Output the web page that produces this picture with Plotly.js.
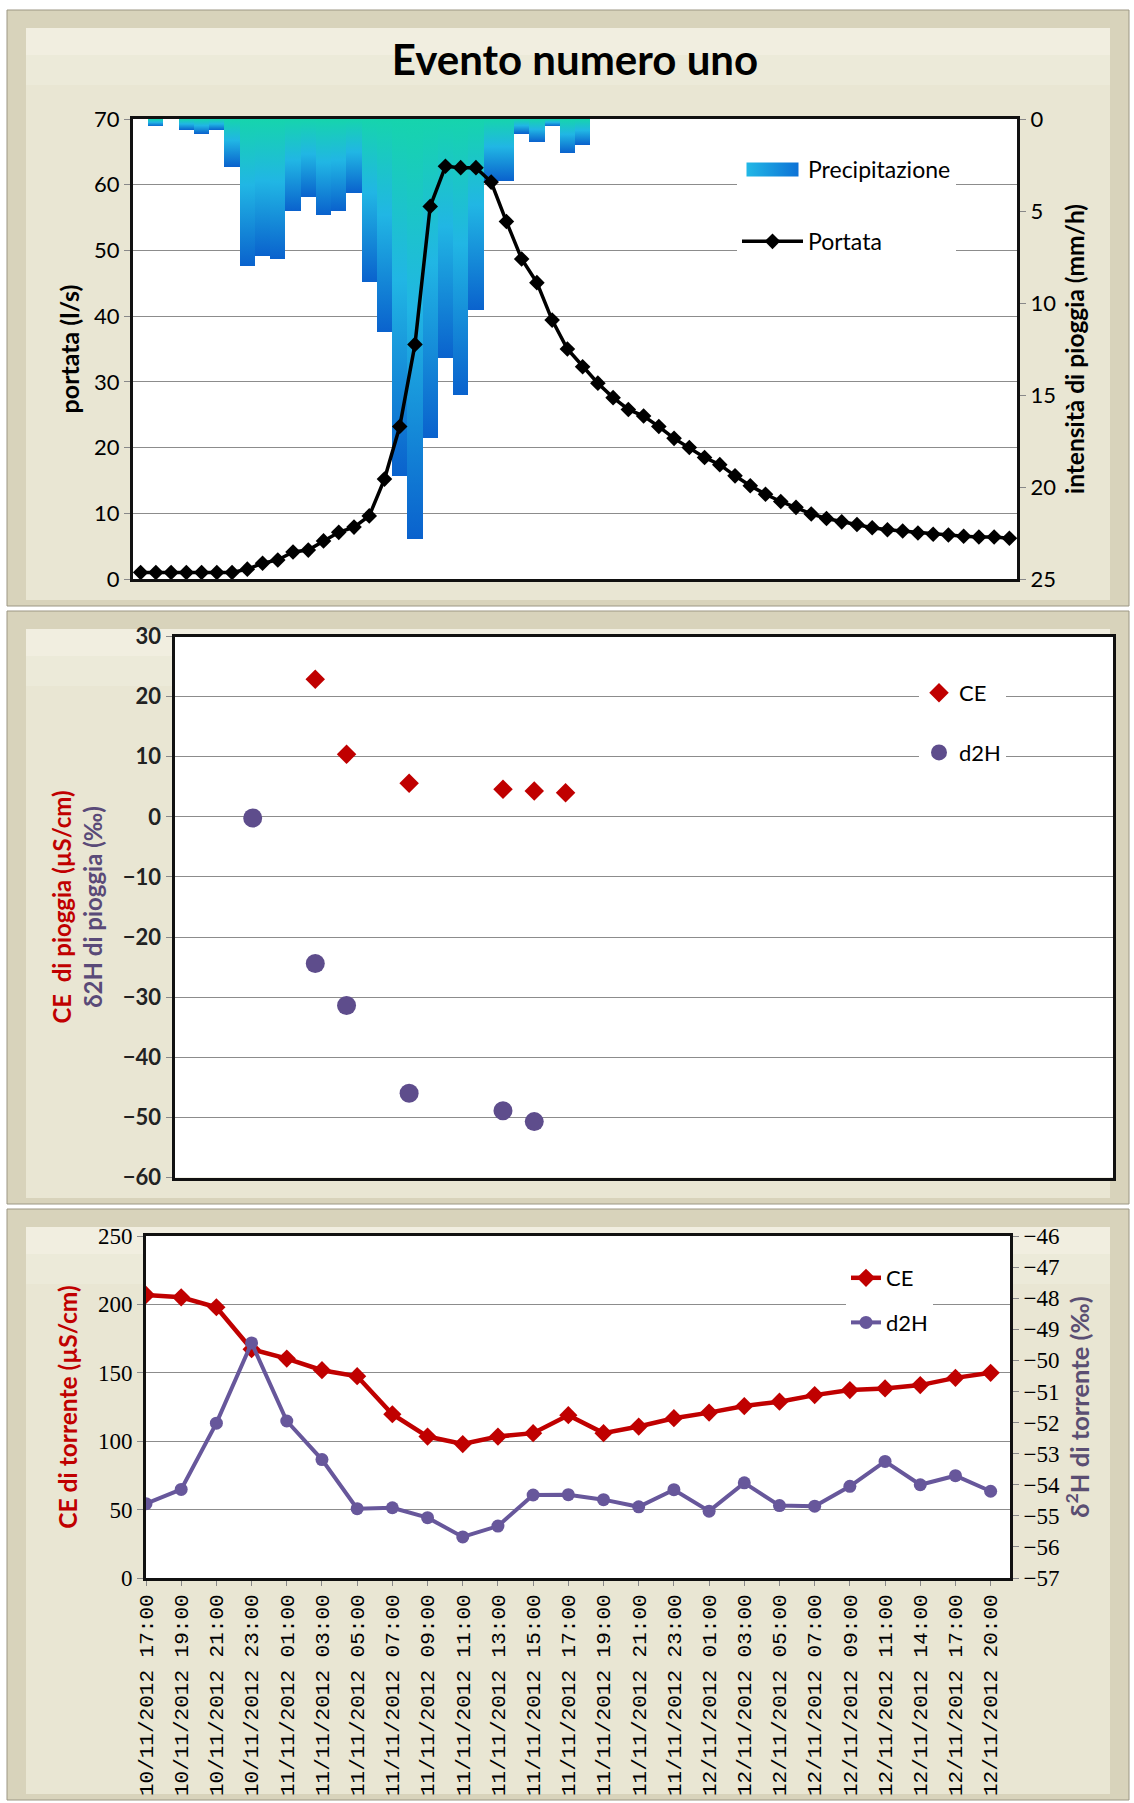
<!DOCTYPE html>
<html>
<head>
<meta charset="utf-8">
<script src="https://cdn.plot.ly/plotly-3.0.1.min.js"></script>
<style>
html,body{margin:0;padding:0;background:#fff;}
#chart{width:1134px;height:1803px;}
</style>
</head>
<body>
<div id="chart"></div>
<script>
// ================= DATA =================
// Top panel: hourly steps of the event (category index, labels hidden in the original)
const flowStep = [0,1,2,3,4,5,6,7,8,9,10,11,12,13,14,15,16,17,18,19,20,21,22,23,24,25,26,27,28,29,
                  30,31,32,33,34,35,36,37,38,39,40,41,42,43,44,45,46,47,48,49,50,51,52,53,54,55,56,57];
// Portata (l/s)
const portata = [1.0,1.0,1.0,1.0,1.0,1.0,1.0,1.5,2.4,2.9,4.1,4.4,5.8,7.1,7.9,9.6,15.2,23.2,35.7,56.7,
                 62.8,62.6,62.6,60.4,54.4,48.7,45.1,39.4,35.0,32.3,29.8,27.6,25.8,24.8,23.2,21.4,20.0,18.5,17.4,15.7,
                 14.2,12.9,11.8,10.9,9.9,9.2,8.7,8.3,7.8,7.5,7.3,7.0,6.8,6.7,6.5,6.4,6.4,6.2];
// Precipitazione (mm/h)
const precipitazione = [0,0.4,0,0.6,0.8,0.6,2.6,8.0,7.45,7.6,5.0,4.25,5.2,5.0,4.0,8.85,11.6,19.4,22.8,17.35,
                        13.0,15.0,10.4,3.35,3.35,0.8,1.25,0.4,1.85,1.4,0,0,0,0,0,0,0,0,0,0,
                        0,0,0,0,0,0,0,0,0,0,0,0,0,0,0,0,0,0];

// Middle panel: rain samples (sample position index)
const ceRainPos  = [4,5,7,10,11,12];
const ceRain     = [22.9,10.4,5.6,4.6,4.3,4.0];
const d2hRainPos = [2,4,5,7,10,11];
const d2hRain    = [-0.2,-24.4,-31.4,-46.0,-48.9,-50.7];

// Bottom panel: stream samples
const sampleTimes = ['10/11/2012 17:00','10/11/2012 19:00','10/11/2012 21:00','10/11/2012 23:00',
  '11/11/2012 01:00','11/11/2012 03:00','11/11/2012 05:00','11/11/2012 07:00','11/11/2012 09:00',
  '11/11/2012 11:00','11/11/2012 13:00','11/11/2012 15:00','11/11/2012 17:00','11/11/2012 19:00',
  '11/11/2012 21:00','11/11/2012 23:00','12/11/2012 01:00','12/11/2012 03:00','12/11/2012 05:00',
  '12/11/2012 07:00','12/11/2012 09:00','12/11/2012 11:00','12/11/2012 14:00','12/11/2012 17:00',
  '12/11/2012 20:00'];
const ceStream  = [206.9,205.2,197.9,167.2,160.4,151.9,147.5,119.7,103.4,97.9,103.4,105.9,119.0,
                   105.9,110.7,116.8,120.9,125.7,128.9,133.7,137.4,138.6,141.0,146.3,150.0];
const d2hStream = [-54.61,-54.15,-52.02,-49.44,-51.95,-53.19,-54.77,-54.74,-55.06,-55.68,-55.33,-54.33,
                   -54.32,-54.48,-54.71,-54.16,-54.85,-53.94,-54.67,-54.69,-54.05,-53.25,-54.00,-53.71,-54.21];

// ================= LAYOUT HELPERS =================
const W = 1134, H = 1803;
const px = v => v / W;
const py = v => 1 - v / H;

const RED = '#c00000';
const PURPLE_M = '#5e4d8c';
const PURPLE_B = '#67579b';
const GRID = '#8c8c8c';
const BAR = '#1a9fdc';

function panel(y0, y1) {
  return [
    {type:'rect', xref:'paper', yref:'paper', x0:px(7), x1:px(1129), y0:py(y1), y1:py(y0),
     fillcolor:'#d8d3bb', line:{color:'#9c9784', width:1}, layer:'below'},
    {type:'rect', xref:'paper', yref:'paper', x0:px(26), x1:px(1110), y0:py(y1-6), y1:py(y0+18),
     fillcolor:'#e9e6d3', line:{width:0}, layer:'below'},
    {type:'rect', xref:'paper', yref:'paper', x0:px(26), x1:px(1110), y0:py(y0+45), y1:py(y0+18),
     fillcolor:'#f3f1e5', line:{width:0}, layer:'below', opacity:0.7},
    {type:'rect', xref:'paper', yref:'paper', x0:px(26), x1:px(1110), y0:py(y0+75), y1:py(y0+45),
     fillcolor:'#efedde', line:{width:0}, layer:'below', opacity:0.6}
  ];
}
function whiteArea(x0, x1, y0, y1) {
  return {type:'rect', xref:'paper', yref:'paper', x0:px(x0), x1:px(x1), y0:py(y1), y1:py(y0),
          fillcolor:'#ffffff', line:{width:0}, layer:'below'};
}

const shapes = [].concat(
  panel(10, 606), panel(611, 1204), panel(1209, 1800),
  [whiteArea(133,1017,119,579), whiteArea(174.5,1113,636.5,1177.5), whiteArea(146,1010,1236,1578)]
);

const axisLine = {showline:true, linecolor:'#111', linewidth:3, zeroline:false};
const yTicks = {ticks:'outside', ticklen:6, tickcolor:'#888', tickwidth:1};

const layout = {
  width: W, height: H,
  margin: {l:0, r:0, t:0, b:0},
  paper_bgcolor: '#ffffff',
  plot_bgcolor: '#ffffff',
  font: {family:'Lato, "Open Sans", sans-serif', size:22, color:'#000'},
  title: {text:'<b>Evento numero uno</b>', x:575/W, xanchor:'center', xref:'paper',
          y:py(60), yanchor:'middle', yref:'paper',
          font:{family:'Lato, sans-serif', size:42, color:'#000'}},
  bargap: 0,
  shapes: shapes,

  // ---- top panel ----
  xaxis: Object.assign({domain:[px(133), px(1017)], anchor:'y', range:[-0.5, 57.5],
          showticklabels:false, ticks:'', showgrid:false, mirror:true}, axisLine),
  yaxis: Object.assign({domain:[py(579), py(119)], anchor:'x', side:'right', range:[25, 0],
          tick0:0, dtick:5, showgrid:false,
          title:{text:'<b>intensità di pioggia (mm/h)</b>', standoff:12, font:{size:24.5}}}, axisLine, yTicks),
  yaxis2: Object.assign({overlaying:'y', anchor:'x', side:'left', range:[0, 70], tick0:0, dtick:10,
          showgrid:true, gridcolor:GRID, gridwidth:1,
          title:{text:'<b>portata (l/s)</b>', standoff:8, font:{size:25}}}, axisLine, yTicks),

  // ---- middle panel ----
  xaxis2: Object.assign({domain:[px(174.5), px(1113)], anchor:'y3', range:[-0.5, 29.5],
          showticklabels:false, ticks:'', showgrid:false, mirror:true}, axisLine),
  yaxis3: Object.assign({domain:[py(1177.5), py(636.5)], anchor:'x2', range:[-60, 30], tick0:0, dtick:10,
          showgrid:true, gridcolor:GRID, gridwidth:1, mirror:true,
          tickfont:{color:'#222', weight:'bold'},
          title:{text:'<span style="color:'+RED+'"><b>CE  di pioggia (µS/cm)</b></span><br>' +
                      '<span style="color:#5a4a78"><b>δ2H di pioggia (‰)</b></span>',
                 standoff:14, font:{size:24}}}, axisLine, yTicks),

  // ---- bottom panel ----
  xaxis3: Object.assign({domain:[px(146), px(1010)], anchor:'y4', type:'category', range:[0, 24.55],
          tickmode:'array', tickvals:sampleTimes, ticktext:sampleTimes, tickangle:-90,
          tickfont:{family:'"Liberation Mono", monospace', size:21, color:'#000'},
          ticks:'outside', ticklen:5, tickcolor:'#888', showgrid:false, mirror:true}, axisLine),
  yaxis4: Object.assign({domain:[py(1578), py(1236)], anchor:'x3', range:[0, 250], tick0:0, dtick:50,
          showgrid:true, gridcolor:GRID, gridwidth:1,
          tickfont:{family:'"Liberation Serif", serif', size:23},
          title:{text:'<b>CE di torrente (µS/cm)</b>', standoff:14, font:{size:24.5, color:RED}}}, axisLine, yTicks),
  yaxis5: Object.assign({overlaying:'y4', anchor:'x3', side:'right', range:[-57, -46], tick0:-57, dtick:1,
          showgrid:false,
          tickfont:{family:'"Liberation Serif", serif', size:23},
          title:{text:'<b>δ<sup>2</sup>H di torrente (‰)</b>', standoff:10, font:{size:25.5, color:'#5a4e72'}}}, axisLine, yTicks),

  // ---- legends ----
  legend:  {x:px(737), y:py(148), xanchor:'left', yanchor:'top', bgcolor:'#ffffff', borderwidth:0,
            font:{size:23}, tracegroupgap:39, itemwidth:61},
  legend2: {x:px(919), y:py(672), xanchor:'left', yanchor:'top', bgcolor:'#ffffff', borderwidth:0,
            font:{size:22}, tracegroupgap:28},
  legend3: {x:px(846), y:py(1257), xanchor:'left', yanchor:'top', bgcolor:'#ffffff', borderwidth:0,
            font:{size:22}, tracegroupgap:13}
};

const data = [
  {type:'bar', name:'Precipitazione', x:flowStep, y:precipitazione, xaxis:'x', yaxis:'y',
   marker:{color:BAR, line:{width:0}}, legend:'legend', legendgroup:'p', hoverinfo:'skip'},
  {type:'scatter', mode:'lines+markers', name:'Portata', x:flowStep, y:portata, xaxis:'x', yaxis:'y2',
   line:{color:'#000', width:3.5}, marker:{symbol:'diamond', size:12, color:'#000'},
   legend:'legend', legendgroup:'q'},

  {type:'scatter', mode:'markers', name:'CE', x:ceRainPos, y:ceRain, xaxis:'x2', yaxis:'y3',
   marker:{symbol:'diamond', size:15, color:RED}, legend:'legend2', legendgroup:'m1'},
  {type:'scatter', mode:'markers', name:'d2H', x:d2hRainPos, y:d2hRain, xaxis:'x2', yaxis:'y3',
   marker:{symbol:'circle', size:19, color:PURPLE_M}, legend:'legend2', legendgroup:'m2'},

  {type:'scatter', mode:'lines+markers', name:'CE', x:sampleTimes, y:ceStream, xaxis:'x3', yaxis:'y4',
   line:{color:RED, width:4.5}, marker:{symbol:'diamond', size:14, color:RED},
   legend:'legend3', legendgroup:'b1'},
  {type:'scatter', mode:'lines+markers', name:'d2H', x:sampleTimes, y:d2hStream, xaxis:'x3', yaxis:'y5',
   line:{color:PURPLE_B, width:4}, marker:{symbol:'circle', size:13, color:PURPLE_B},
   legend:'legend3', legendgroup:'b2'}
];

Plotly.newPlot('chart', data, layout, {staticPlot:true, displayModeBar:false}).then(function(gd){
  // Excel-like gradient fill for the precipitation bars (styling only)
  const ns = 'http://www.w3.org/2000/svg';
  const svg = gd.querySelector('svg.main-svg');
  let defs = svg.querySelector('defs');
  if (!defs) { defs = document.createElementNS(ns, 'defs'); svg.insertBefore(defs, svg.firstChild); }
  function grad(id, x2, y2, stops) {
    const g = document.createElementNS(ns, 'linearGradient');
    g.setAttribute('id', id);
    g.setAttribute('x1', '0'); g.setAttribute('y1', '0');
    g.setAttribute('x2', x2); g.setAttribute('y2', y2);
    stops.forEach(function(s){
      const st = document.createElementNS(ns, 'stop');
      st.setAttribute('offset', s[0]); st.setAttribute('stop-color', s[1]);
      g.appendChild(st);
    });
    defs.appendChild(g);
  }
  grad('precipGrad', '0', '1', [['0','#16d4ad'],['0.45','#21b6e4'],['1','#0a62cd']]);
  grad('precipLegGrad', '1', '0', [['0','#22b8e6'],['1','#0d72d6']]);
  gd.querySelectorAll('.barlayer .point path').forEach(function(p){ p.style.fill = 'url(#precipGrad)'; });
  gd.querySelectorAll('.legendpoints path').forEach(function(p){
    if (p.style.fill === 'rgb(26, 159, 220)') {
      p.style.fill = 'url(#precipLegGrad)';
      p.setAttribute('d', 'M26,7H-26V-7H26Z');  // wide Excel-style legend swatch
    }
  });
});
</script>
</body>
</html>
